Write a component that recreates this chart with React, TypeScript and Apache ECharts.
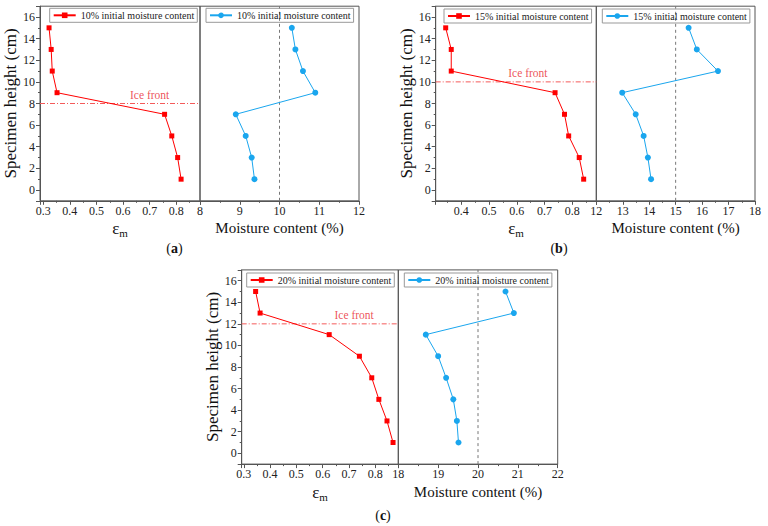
import React, { useEffect, useRef } from "react";
import * as echarts from "echarts";

// ---- data ----
const heights = [15, 13, 11, 9, 7, 5, 3, 1];
const strain10 = [0.322, 0.33, 0.334, 0.352, 0.756, 0.783, 0.805, 0.818];
const moisture10 = [10.31, 10.4, 10.59, 10.9, 8.9, 9.15, 9.3, 9.37];
const strain15 = [0.344, 0.364, 0.364, 0.738, 0.772, 0.787, 0.825, 0.841];
const moisture15 = [15.49, 15.8, 16.6, 12.98, 13.49, 13.79, 13.95, 14.07];
const strain20 = [0.345, 0.362, 0.625, 0.74, 0.787, 0.814, 0.845, 0.868];
const moisture20 = [20.69, 20.9, 18.69, 19.0, 19.2, 19.38, 19.47, 19.51];

const initialMoistureLabels = ["10%", "15%", "20%"];
const initialMoistureValues = [10, 15, 20];
const iceFrontHeights = [8, 10, 12];
const iceFrontLabelStrain = [0.7, 0.64, 0.72];
const strainAxisMin = [0.288, 0.308, 0.292];
const strainAxisMax = [0.889, 0.8865, 0.888];
const moistureAxisMin = [8, 12, 18];
const moistureAxisMax = [12, 18, 22];
const heightAxisMin = -1;
const heightAxisMax = 17;
const panelLetters = ["a", "b", "c"];

const strainSets = [strain10, strain15, strain20];
const moistureSets = [moisture10, moisture15, moisture20];

// ---- layout (pixels) ----
const layouts = [
  { l: 40, m: 200, r: 359, t: 6.2, b: 200.8, leg1: 49.7, leg2: 206, legTop: 8.3, lx: 174.5, ly: 248 },
  { l: 435.7, m: 596.3, r: 755, t: 6.2, b: 200.8, leg1: 444, leg2: 602.3, legTop: 9, lx: 559, ly: 248 },
  { l: 241.7, m: 398.3, r: 557.7, t: 269.9, b: 464.1, leg1: 246.7, leg2: 404.3, legTop: 273, lx: 383, ly: 515 },
];

const FONT = "Liberation Serif";
const FRAME = "#555";
const RED = "#ff0000";
const BLUE = "#1aa6ee";
const ICE = "#f45a5a";

function buildOption() {
  const grid: any[] = [];
  const xAxis: any[] = [];
  const yAxis: any[] = [];
  const series: any[] = [];
  const legend: any[] = [];
  const graphic: any[] = [];

  const baseAxis = {
    type: "value",
    axisLine: { show: true, onZero: false, lineStyle: { color: FRAME, width: 1 } },
    axisTick: { show: true, inside: false, length: 4, lineStyle: { color: FRAME } },
    minorTick: { show: true, splitNumber: 2, length: 2, lineStyle: { color: FRAME } },
    splitLine: { show: false },
    axisLabel: { fontFamily: FONT, fontSize: 12, color: "#222", margin: 4 },
  };

  layouts.forEach((L, i) => {
    const gL = 2 * i;
    const gR = 2 * i + 1;
    grid.push({
      left: L.l, top: L.t, width: L.m - L.l, height: L.b - L.t,
      show: true, borderColor: FRAME, borderWidth: 1, backgroundColor: "transparent",
    });
    grid.push({
      left: L.m, top: L.t, width: L.r - L.m, height: L.b - L.t,
      show: true, borderColor: FRAME, borderWidth: 1, backgroundColor: "transparent",
    });

    xAxis.push({
      ...baseAxis,
      gridIndex: gL,
      min: strainAxisMin[i],
      max: strainAxisMax[i],
      splitNumber: 6,
      axisLabel: {
        ...baseAxis.axisLabel,
        showMinLabel: false,
        showMaxLabel: false,
        formatter: (v: number) => String(Math.round(v * 10) / 10),
      },
      name: "ε{sub|m}",
      nameLocation: "middle",
      nameGap: 18,
      nameTextStyle: {
        fontFamily: FONT, fontSize: 17, color: "#111",
        rich: { sub: { fontFamily: FONT, fontSize: 11, color: "#111", padding: [9, 0, 0, 0] } },
      },
    });
    xAxis.push({
      ...baseAxis,
      gridIndex: gR,
      min: moistureAxisMin[i],
      max: moistureAxisMax[i],
      interval: 1,
      axisLabel: { ...baseAxis.axisLabel, showMinLabel: true, showMaxLabel: true },
      name: "Moisture content (%)",
      nameLocation: "middle",
      nameGap: 20,
      nameTextStyle: { fontFamily: FONT, fontSize: 15, color: "#111", fontWeight: "normal" },
    });

    yAxis.push({
      ...baseAxis,
      gridIndex: gL,
      min: heightAxisMin,
      max: heightAxisMax,
      splitNumber: 9,
      axisLabel: { ...baseAxis.axisLabel, showMinLabel: false, showMaxLabel: false, margin: 5 },
      name: "Specimen height (cm)",
      nameLocation: "middle",
      nameGap: 20,
      nameTextStyle: { fontFamily: FONT, fontSize: 17, color: "#111" },
    });
    yAxis.push({
      type: "value",
      gridIndex: gR,
      min: heightAxisMin,
      max: heightAxisMax,
      show: false,
      splitLine: { show: false },
    });

    const redName = `strain-${i}`;
    const blueName = `moisture-${i}`;
    const legendText = `${initialMoistureLabels[i]} initial moisture content`;

    series.push({
      name: redName,
      type: "line",
      xAxisIndex: gL,
      yAxisIndex: gL,
      data: strainSets[i].map((v, k) => [v, heights[k]]),
      symbol: "rect",
      symbolSize: 5,
      color: RED,
      lineStyle: { color: RED, width: 1 },
      itemStyle: { color: RED },
      z: 3,
    });
    series.push({
      name: blueName,
      type: "line",
      xAxisIndex: gR,
      yAxisIndex: gR,
      data: moistureSets[i].map((v, k) => [v, heights[k]]),
      symbol: "circle",
      symbolSize: 6,
      color: BLUE,
      lineStyle: { color: BLUE, width: 1 },
      itemStyle: { color: BLUE },
      z: 3,
    });
    // ice front: horizontal dash-dot reference line across the strain panel
    series.push({
      name: `iceline-${i}`,
      type: "line",
      xAxisIndex: gL,
      yAxisIndex: gL,
      data: [
        [strainAxisMin[i], iceFrontHeights[i]],
        [strainAxisMax[i], iceFrontHeights[i]],
      ],
      symbol: "none",
      color: ICE,
      lineStyle: { color: ICE, width: 1, type: [5, 2, 1, 2] },
      silent: true,
      z: 1,
    });
    series.push({
      name: `icelabel-${i}`,
      type: "scatter",
      xAxisIndex: gL,
      yAxisIndex: gL,
      data: [[iceFrontLabelStrain[i], iceFrontHeights[i]]],
      symbolSize: 2,
      itemStyle: { color: "rgba(0,0,0,0)" },
      silent: true,
      z: 1,
      label: {
        show: true,
        position: "top",
        distance: 2,
        formatter: "Ice front",
        fontFamily: FONT,
        fontSize: 11.5,
        color: "#e8262d",
      },
    });
    // initial moisture: vertical dashed line in the moisture panel
    series.push({
      name: `initline-${i}`,
      type: "line",
      xAxisIndex: gR,
      yAxisIndex: gR,
      data: [
        [initialMoistureValues[i], heightAxisMin],
        [initialMoistureValues[i], heightAxisMax],
      ],
      symbol: "none",
      color: "#777",
      lineStyle: { color: "#777", width: 1, type: [3, 3] },
      silent: true,
      z: 1,
    });

    const legendBase = {
      top: L.legTop,
      orient: "horizontal",
      borderColor: "#999",
      borderWidth: 1,
      padding: [2, 3],
      itemWidth: 22,
      itemHeight: 7,
      selectedMode: false,
      formatter: legendText,
      textStyle: { fontFamily: FONT, fontSize: 10, color: "#222" },
    };
    legend.push({ ...legendBase, left: L.leg1, data: [redName] });
    legend.push({ ...legendBase, left: L.leg2, data: [blueName] });

    graphic.push({
      type: "text",
      x: L.lx,
      y: L.ly,
      style: {
        text: `({b|${panelLetters[i]}})`,
        fontFamily: FONT,
        fontSize: 14,
        fill: "#111",
        align: "center",
        verticalAlign: "middle",
        rich: { b: { fontFamily: FONT, fontSize: 14, fontWeight: "bold", fill: "#111" } },
      },
    });
  });

  return {
    animation: false,
    backgroundColor: "#fff",
    grid,
    xAxis,
    yAxis,
    series,
    legend,
    graphic,
  };
}

export default function App() {
  const ref = useRef<HTMLDivElement>(null);
  useEffect(() => {
    if (!ref.current) return;
    const chart = echarts.init(ref.current, null, { renderer: "svg" });
    chart.setOption(buildOption() as any);
    return () => chart.dispose();
  }, []);
  return (
    <div
      ref={ref}
      style={{ position: "fixed", left: 0, top: 0, width: 768, height: 526, background: "#fff" }}
    />
  );
}
